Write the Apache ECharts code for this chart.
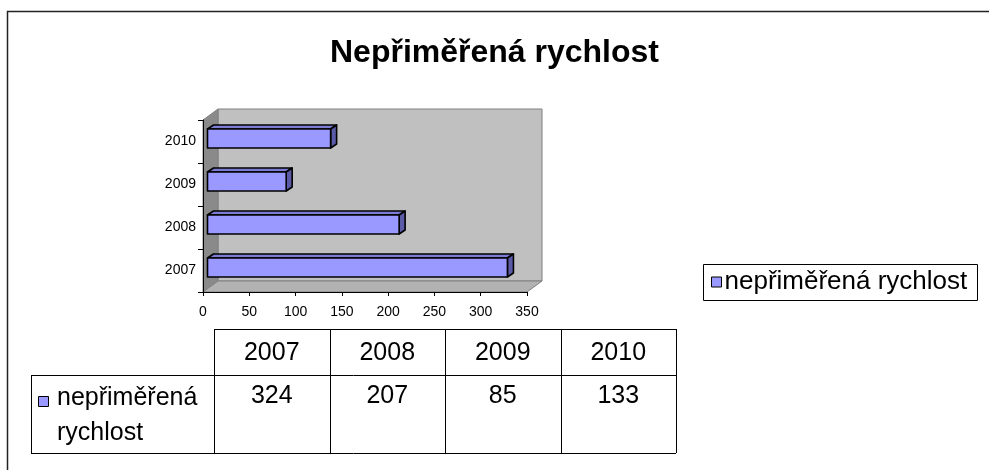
<!DOCTYPE html>
<html>
<head>
<meta charset="utf-8">
<script src="https://cdn.jsdelivr.net/npm/echarts@6/dist/echarts.min.js"></script>
<style>
html, body { margin: 0; padding: 0; background: #fff; }
#main { width: 989px; height: 470px; }
</style>
</head>
<body>
<div id="main"></div>
<script>
var categories = ['2007', '2008', '2009', '2010'];
var values = [324, 207, 85, 133];
var seriesName = 'nepřiměřená rychlost';
var titleText = 'Nepřiměřená rychlost';
var axisMin = 0;
var axisMax = 350;
var axisStep = 50;

var FONT = '"Liberation Sans", Arial, sans-serif';
var BAR = '#9999ff';

var chart = echarts.init(document.getElementById('main'));

// back wall, side wall and floor of the 3d plot area
function wallsItem(params, api) {
  var r = params.coordSys;
  var dx = 15, dy = -11;
  var x = r.x, y = r.y, w = r.width, h = r.height;
  return {
    type: 'group',
    children: [
      { type: 'rect', shape: { x: x + dx, y: y + dy, width: w, height: h },
        style: { fill: '#c0c0c0', stroke: '#808080', lineWidth: 1 } },
      { type: 'polygon', shape: { points: [[x, y], [x + dx, y + dy], [x + dx, y + h + dy], [x, y + h]] },
        style: { fill: '#8a8a8a', stroke: '#808080', lineWidth: 1 } },
      { type: 'polygon', shape: { points: [[x, y + h], [x + dx, y + h + dy], [x + w + dx, y + h + dy], [x + w, y + h]] },
        style: { fill: '#b2b2b2', stroke: '#808080', lineWidth: 1 } }
    ]
  };
}

// 3d bar: front face, top and right side
function barItem(params, api) {
  var idx = api.value(1);
  var p0 = api.coord([0, idx]);
  var p1 = api.coord([api.value(0), idx]);
  var band = api.size([0, 1])[1];
  var h = band * 0.44;
  var ox = 4.5, oy = -3;
  var dx = 6, dy = -4;
  var x0 = p0[0] + ox, x1 = p1[0] + ox;
  var yT = p0[1] + oy - h / 2, yB = yT + h;
  var line = { stroke: '#000', lineWidth: 1.6, lineJoin: 'round' };
  return {
    type: 'group',
    children: [
      { type: 'polygon', shape: { points: [[x0, yT], [x0 + dx, yT + dy], [x1 + dx, yT + dy], [x1, yT]] },
        style: Object.assign({ fill: '#7c7cd4' }, line) },
      { type: 'polygon', shape: { points: [[x1, yT], [x1 + dx, yT + dy], [x1 + dx, yB + dy], [x1, yB]] },
        style: Object.assign({ fill: '#5a5aa6' }, line) },
      { type: 'rect', shape: { x: x0, y: yT, width: x1 - x0, height: h },
        style: Object.assign({ fill: BAR }, line) }
    ]
  };
}

// data table under the chart
var colX = [214, 329.5, 445, 560.5, 676];
var rowTop = 329, rowMid = 375, rowBot = 453, tableLeft = 31;
var graphics = [
  { type: 'rect', shape: { x: 7.5, y: 11.5, width: 1000, height: 500 },
    style: { fill: null, stroke: '#222', lineWidth: 1.5 }, z: 0 },
  { type: 'rect', shape: { x: 703.5, y: 264.5, width: 274, height: 36 },
    style: { fill: null, stroke: '#000', lineWidth: 1 }, z: 0 }
];
function hline(x1, x2, y) {
  graphics.push({ type: 'line', shape: { x1: x1, y1: y, x2: x2, y2: y }, style: { stroke: '#000', lineWidth: 1 } });
}
function vline(x, y1, y2) {
  graphics.push({ type: 'line', shape: { x1: x, y1: y1, x2: x, y2: y2 }, style: { stroke: '#000', lineWidth: 1 } });
}
hline(colX[0], colX[4], rowTop + 0.5);
hline(tableLeft, colX[4], rowMid + 0.5);
hline(tableLeft, colX[4], rowBot + 0.5);
vline(tableLeft + 0.5, rowMid, rowBot);
colX.forEach(function (x) { vline(Math.round(x) + 0.5, rowTop, rowBot); });
categories.forEach(function (c, i) {
  var cx = (colX[i] + colX[i + 1]) / 2;
  graphics.push({ type: 'text', x: cx, y: 353,
    style: { text: c, fill: '#000', font: '25px ' + FONT, align: 'center', verticalAlign: 'middle' } });
  graphics.push({ type: 'text', x: cx, y: 396,
    style: { text: String(values[i]), fill: '#000', font: '25px ' + FONT, align: 'center', verticalAlign: 'middle' } });
});
graphics.push({ type: 'rect', shape: { x: 38.5, y: 396.5, width: 10, height: 10 },
  style: { fill: BAR, stroke: '#000', lineWidth: 1 } });
graphics.push({ type: 'text', x: 57, y: 381,
  style: { text: seriesName.replace(' ', '\n'), fill: '#000', font: '25px ' + FONT,
    lineHeight: 35, verticalAlign: 'top' } });

chart.setOption({
  animation: false,
  title: {
    text: titleText,
    left: 'center',
    top: 37,
    padding: 0,
    textStyle: { fontFamily: FONT, fontSize: 32, fontWeight: 'bold', color: '#000' }
  },
  legend: {
    data: [seriesName],
    left: 711,
    top: 269,
    padding: 0,
    icon: 'rect',
    itemWidth: 10,
    itemHeight: 10,
    itemStyle: { borderColor: '#000', borderWidth: 1 },
    textStyle: { fontFamily: FONT, fontSize: 26, color: '#000', padding: [0, 0, 0, -2] }
  },
  grid: { left: 203, top: 120, width: 324, height: 172, outerBoundsMode: 'none' },
  xAxis: {
    type: 'value',
    min: axisMin,
    max: axisMax,
    interval: axisStep,
    z: 5,
    axisLine: { show: true, lineStyle: { color: '#000', width: 1 } },
    axisTick: { show: true, length: 4, lineStyle: { color: '#000' } },
    splitLine: { show: false },
    axisLabel: { fontFamily: FONT, fontSize: 14, color: '#000', margin: 13 }
  },
  yAxis: {
    type: 'category',
    data: categories,
    z: 5,
    axisLine: { show: true, lineStyle: { color: '#000', width: 1 } },
    axisTick: { show: true, length: 5, lineStyle: { color: '#000' } },
    axisLabel: { fontFamily: FONT, fontSize: 14, color: '#000', margin: 7 }
  },
  series: [
    {
      name: 'walls',
      type: 'custom',
      silent: true,
      z: 1,
      renderItem: wallsItem,
      data: [[0, 0]]
    },
    {
      name: seriesName,
      type: 'custom',
      z: 3,
      itemStyle: { color: BAR },
      renderItem: barItem,
      encode: { x: 0, y: 1 },
      data: values.map(function (v, i) { return [v, i]; })
    }
  ],
  graphic: graphics
});
</script>
</body>
</html>
